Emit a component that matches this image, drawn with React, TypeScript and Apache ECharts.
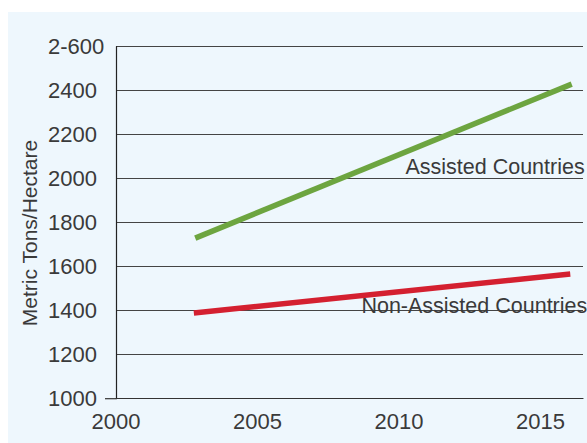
import React, { useEffect, useRef } from "react";
import * as echarts from "echarts";

const assistedYears = [2002.8, 2016.1];
const assistedValues = [1730, 2430];
const nonAssistedYears = [2002.75, 2016.05];
const nonAssistedValues = [1390, 1567];
const yTickLabels: Record<number, string> = {
  1000: "1000",
  1200: "1200",
  1400: "1400",
  1600: "1600",
  1800: "1800",
  2000: "2000",
  2200: "2200",
  2400: "2400",
  2600: "2-600",
};
const seriesNames = ["Assisted Countries", "Non-Assisted Countries"];
const yAxisTitle = "Metric Tons/Hectare";

const FONT = "'Liberation Sans', Arial, Helvetica, sans-serif";
const TEXT = "#3a3a3a";

export default function App() {
  const ref = useRef<HTMLDivElement>(null);
  useEffect(() => {
    if (!ref.current) return;
    const chart = echarts.init(ref.current, null, { renderer: "svg" });
    chart.setOption({
      animation: false,
      backgroundColor: "transparent",
      textStyle: { fontFamily: FONT },
      graphic: [
        {
          type: "text",
          x: 29,
          y: 233,
          rotation: Math.PI / 2,
          style: {
            text: yAxisTitle,
            fill: TEXT,
            font: `21px ${FONT}`,
            align: "center",
            verticalAlign: "middle",
          },
        },
        {
          type: "line",
          shape: { x1: 105, y1: 398.7, x2: 116, y2: 398.7 },
          style: { stroke: "#333", lineWidth: 1.2 },
        },
      ],
      grid: { left: 116, right: 4, top: 46.7, bottom: 44.3, containLabel: false },
      xAxis: {
        type: "value",
        min: 2000,
        max: 2016.5,
        interval: 5,
        axisLine: { show: true, lineStyle: { color: "#333", width: 1.2 } },
        axisTick: { show: false },
        splitLine: { show: false },
        axisLabel: {
          color: TEXT,
          fontSize: 22,
          fontFamily: FONT,
          margin: 12,
          showMaxLabel: false,
          formatter: (v: number) => (v % 5 === 0 ? String(v) : ""),
        },
      },
      yAxis: {
        type: "value",
        min: 1000,
        max: 2600,
        interval: 200,
        axisLine: { show: true, lineStyle: { color: "#222", width: 1.2 } },
        axisTick: { show: false },
        splitLine: { show: true, lineStyle: { color: "#444", width: 1.2 } },
        axisLabel: {
          color: TEXT,
          fontSize: 22,
          fontFamily: FONT,
          align: "left",
          margin: 68,
          formatter: (v: number) => yTickLabels[v] ?? String(v),
        },
      },
      series: [
        {
          name: seriesNames[0],
          type: "line",
          data: assistedYears.map((x, i) => [x, assistedValues[i]]),
          symbol: "none",
          lineStyle: { color: "#6da540", width: 5.5, cap: "butt" },
          endLabel: {
            show: true,
            formatter: "{a}",
            color: TEXT,
            fontSize: 21.5,
            fontFamily: FONT,
            align: "right",
            verticalAlign: "middle",
            distance: 0,
            offset: [13, 83],
          },
        },
        {
          name: seriesNames[1],
          type: "line",
          data: nonAssistedYears.map((x, i) => [x, nonAssistedValues[i]]),
          symbol: "none",
          lineStyle: { color: "#d42030", width: 5.5, cap: "butt" },
          endLabel: {
            show: true,
            formatter: "{a}",
            color: TEXT,
            fontSize: 21.5,
            fontFamily: FONT,
            align: "right",
            verticalAlign: "middle",
            distance: 0,
            offset: [17, 32],
          },
        },
      ],
    });
    return () => chart.dispose();
  }, []);
  return (
    <div
      style={{
        position: "absolute",
        left: 0,
        top: 0,
        width: 587,
        height: 443,
        background: "#fff",
        overflow: "hidden",
      }}
    >
      <div
        style={{
          position: "absolute",
          left: 8,
          top: 12,
          width: 579,
          height: 431,
          background: "#eef7fd",
        }}
      />
      <div
        ref={ref}
        style={{ position: "absolute", left: 0, top: 0, width: 587, height: 443 }}
      />
    </div>
  );
}
